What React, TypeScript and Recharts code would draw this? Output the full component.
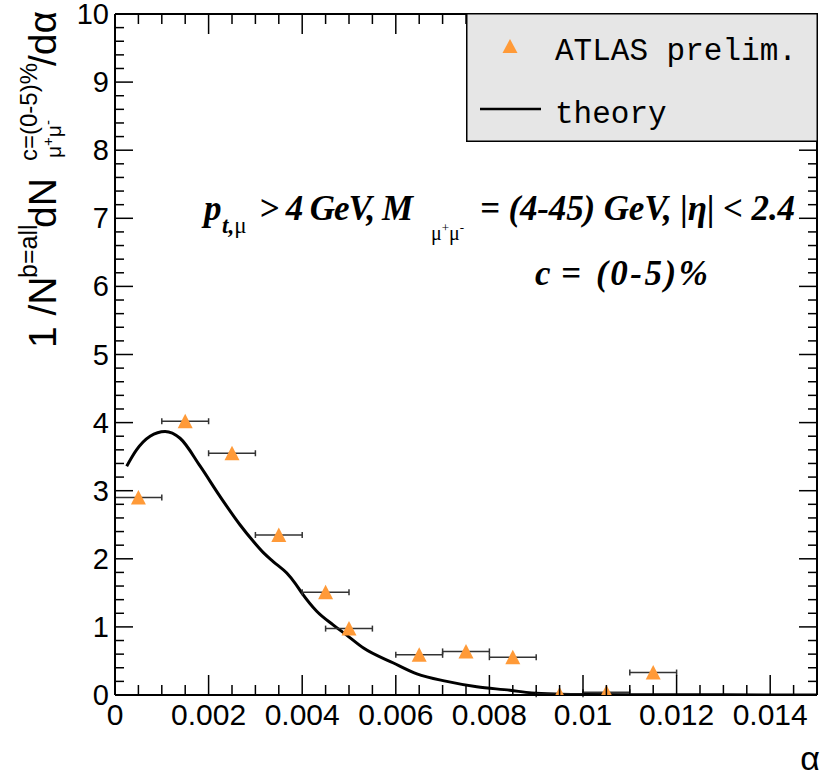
import React from "react";
import {
  ComposedChart,
  ErrorBar,
  Legend,
  Line,
  Scatter,
  XAxis,
  YAxis,
} from "recharts";

// ATLAS preliminary points: bin centre, value, half bin width
const atlasX = [0.0005, 0.0015, 0.0025, 0.0035, 0.0045, 0.005, 0.0065, 0.0075, 0.0085, 0.0095, 0.0105, 0.0115];
const atlasY = [2.9, 4.02, 3.55, 2.35, 1.51, 0.975, 0.59, 0.64, 0.555, 0.01, 0.04, 0.33];
const atlasErr = [0.0005, 0.0005, 0.0005, 0.0005, 0.0005, 0.0005, 0.0005, 0.0005, 0.0005, 0.0005, 0.0005, 0.0005];

// theory curve
const theoryX = [
  0.00025, 0.00046, 0.00075, 0.00107, 0.00139, 0.00182, 0.00224, 0.00267, 0.00295, 0.00317,
  0.00338, 0.00367, 0.00385, 0.00399, 0.00431, 0.00466, 0.00495, 0.00531, 0.00595, 0.00645,
  0.00709, 0.00773, 0.00844, 0.0089, 0.0095, 0.01, 0.011, 0.012, 0.013, 0.015,
];
const theoryY = [
  3.36, 3.6, 3.8, 3.87, 3.77, 3.36, 2.92, 2.5, 2.26, 2.09,
  1.96, 1.79, 1.64, 1.5, 1.23, 1.03, 0.88, 0.69, 0.47, 0.31,
  0.2, 0.12, 0.07, 0.03, 0.012, 0.006, 0.004, 0.003, 0.002, 0.001,
];

const xTickLabels = ["0", "0.002", "0.004", "0.006", "0.008", "0.01", "0.012", "0.014"];
const yTickLabels = ["0", "1", "2", "3", "4", "5", "6", "7", "8", "9", "10"];

// minor tick grids (4 per x major, 5 per y major)
const xTicks = Array.from({ length: 31 }, (_, i) => Number((i * 0.0005).toFixed(4)));
const yTicks = Array.from({ length: 51 }, (_, i) => Number((i * 0.2).toFixed(1)));

const atlas = atlasX.map((x, i) => ({ x, y: atlasY[i], xerr: atlasErr[i] }));
const theory = theoryX.map((x, i) => ({ x, y: theoryY[i] }));

const ORANGE = "#ff9a38";
const SANS = "'Liberation Sans', Arial, Helvetica, sans-serif";
const SERIF = "'Liberation Serif', 'Times New Roman', serif";
const MONO = "'Liberation Mono', 'Courier New', monospace";

const xIndex = (v: number) => Math.round(v / 0.0005);
const yIndex = (v: number) => Math.round(v / 0.2);

const BottomTick = (props: any) => {
  const { x, y, payload } = props;
  const k = xIndex(payload.value);
  const major = k % 4 === 0;
  return (
    <g>
      <line x1={x} x2={x} y1={y} y2={y - (major ? 20 : 10)} stroke="#000" strokeWidth={1.5} />
      {major && (
        <text x={x} y={y + 30} textAnchor="middle" fontFamily={SANS} fontSize={30} fill="#000">
          {xTickLabels[k / 4]}
        </text>
      )}
    </g>
  );
};

const TopTick = (props: any) => {
  const { x, y, payload } = props;
  const major = xIndex(payload.value) % 4 === 0;
  return <line x1={x} x2={x} y1={y} y2={y + (major ? 20 : 10)} stroke="#000" strokeWidth={1.5} />;
};

const LeftTick = (props: any) => {
  const { x, y, payload } = props;
  const k = yIndex(payload.value);
  const major = k % 5 === 0;
  return (
    <g>
      <line x1={x} x2={x + (major ? 18 : 9)} y1={y} y2={y} stroke="#000" strokeWidth={1.5} />
      {major && (
        <text x={x - 6} y={y + 10} textAnchor="end" fontFamily={SANS} fontSize={29} fill="#000">
          {yTickLabels[k / 5]}
        </text>
      )}
    </g>
  );
};

const RightTick = (props: any) => {
  const { x, y, payload } = props;
  const major = yIndex(payload.value) % 5 === 0;
  return <line x1={x} x2={x - (major ? 18 : 9)} y1={y} y2={y} stroke="#000" strokeWidth={1.5} />;
};

const Triangle = (props: any) => {
  const { cx, cy } = props;
  if (cx == null || cy == null) return null;
  return <polygon points={`${cx},${cy - 7.5} ${cx + 7.5},${cy + 7} ${cx - 7.5},${cy + 7}`} fill={ORANGE} />;
};

const LegendBox = () => (
  <svg width={352} height={129} style={{ display: "block" }}>
    <rect x={0.75} y={0.75} width={350.5} height={127.5} fill="#e6e6e6" stroke="#000" strokeWidth={1.5} />
    <polygon points="44,26 51.5,40 36.5,40" fill={ORANGE} />
    <text x={89} y={47} fontFamily={MONO} fontSize={31} fill="#000">ATLAS prelim.</text>
    <line x1={14} x2={75} y1={96} y2={96} stroke="#000" strokeWidth={2.5} />
    <text x={89} y={110} fontFamily={MONO} fontSize={31} fill="#000">theory</text>
  </svg>
);

const Annotations = () => (
  <svg
    width={822}
    height={777}
    style={{ position: "absolute", left: 0, top: 0, pointerEvents: "none" }}
  >
    {/* y-axis title, rotated */}
    <g transform="rotate(-90)" fontFamily={SANS} fill="#000">
      <text x={-348} y={56} fontSize={39}>1 /N</text>
      <text x={-278} y={37} fontSize={25}>b=all</text>
      <text x={-228} y={56} fontSize={39}>dN</text>
      <text x={-161} y={37} fontSize={24}>c=(0-5)%</text>
      <text x={-158} y={61} fontSize={21}>
        μ<tspan fontSize={15} dy={-8}>+</tspan>
        <tspan fontSize={21} dy={8}>μ</tspan>
        <tspan fontSize={15} dy={-8}>-</tspan>
      </text>
      <text x={-66} y={56} fontSize={39}>/dα</text>
    </g>

    {/* x-axis title */}
    <text x={820} y={770} textAnchor="end" fontFamily={SANS} fontSize={34} fill="#000">α</text>

    {/* selection text */}
    <g fontFamily={SERIF} fontWeight="bold" fontStyle="italic" fill="#000">
      <text x={204} y={220} fontSize={35}>p</text>
      <text x={222} y={233} fontSize={23}>
        t,<tspan fontStyle="normal" fontWeight="normal">μ</tspan>
      </text>
      <text x={259} y={220} fontSize={35} textLength={154} lengthAdjust="spacing">{"> 4 GeV, M"}</text>
      <text x={431} y={240} fontSize={20} fontStyle="normal" fontWeight="normal">
        μ<tspan fontSize={13} dy={-8}>+</tspan>
        <tspan fontSize={20} dy={8}>μ</tspan>
        <tspan fontSize={13} dy={-8}>-</tspan>
      </text>
      <text x={480} y={220} fontSize={35} textLength={315} lengthAdjust="spacing">{"= (4-45) GeV, |η| < 2.4"}</text>
      <text x={535} y={285} fontSize={35}>c</text>
      <text x={561} y={285} fontSize={35}>=</text>
      <text x={596} y={285} fontSize={35} textLength={112} lengthAdjust="spacing">(0-5)%</text>
    </g>
  </svg>
);

export default function App() {
  const axisLine = { stroke: "#000", strokeWidth: 2 };
  return (
    <div style={{ position: "absolute", left: 0, top: 0, width: 822, height: 777, background: "#fff" }}>
      <ComposedChart width={822} height={777} margin={{ top: 13, right: 4, bottom: 0, left: 0 }}>
        <XAxis
          xAxisId="b"
          dataKey="x"
          type="number"
          domain={[0, 0.015]}
          allowDataOverflow
          ticks={xTicks}
          interval={0}
          height={82}
          tickSize={0}
          tickMargin={0}
          tickLine={false}
          stroke="#000"
          axisLine={axisLine}
          tick={(p: any) => <BottomTick {...p} />}
        />
        <XAxis
          xAxisId="t"
          orientation="top"
          dataKey="x"
          type="number"
          domain={[0, 0.015]}
          allowDataOverflow
          ticks={xTicks}
          interval={0}
          height={1}
          tickSize={0}
          tickMargin={0}
          tickLine={false}
          stroke="#000"
          axisLine={axisLine}
          tick={(p: any) => <TopTick {...p} />}
        />
        <YAxis
          yAxisId="l"
          dataKey="y"
          type="number"
          domain={[0, 10]}
          allowDataOverflow
          ticks={yTicks}
          interval={0}
          width={115}
          tickSize={0}
          tickMargin={0}
          tickLine={false}
          stroke="#000"
          axisLine={axisLine}
          tick={(p: any) => <LeftTick {...p} />}
        />
        <YAxis
          yAxisId="r"
          orientation="right"
          dataKey="y"
          type="number"
          domain={[0, 10]}
          allowDataOverflow
          ticks={yTicks}
          interval={0}
          width={1}
          tickSize={0}
          tickMargin={0}
          tickLine={false}
          stroke="#000"
          axisLine={axisLine}
          tick={(p: any) => <RightTick {...p} />}
        />
        <Line
          data={theory}
          xAxisId="b"
          yAxisId="l"
          dataKey="y"
          type="monotone"
          stroke="#000"
          strokeWidth={3}
          dot={false}
          activeDot={false}
          isAnimationActive={false}
          name="theory"
        />
        <Scatter
          data={atlas}
          xAxisId="b"
          yAxisId="l"
          dataKey="y"
          shape={Triangle}
          isAnimationActive={false}
          name="ATLAS prelim."
        >
          <ErrorBar dataKey="xerr" direction="x" width={3} stroke="#333" strokeWidth={1.5} />
        </Scatter>
        <Legend
          layout="vertical"
          align="center"
          verticalAlign="middle"
          content={() => <LegendBox />}
          wrapperStyle={{ position: "absolute", left: 466, top: 13, width: 352, height: 129 }}
        />
      </ComposedChart>
      <Annotations />
    </div>
  );
}
